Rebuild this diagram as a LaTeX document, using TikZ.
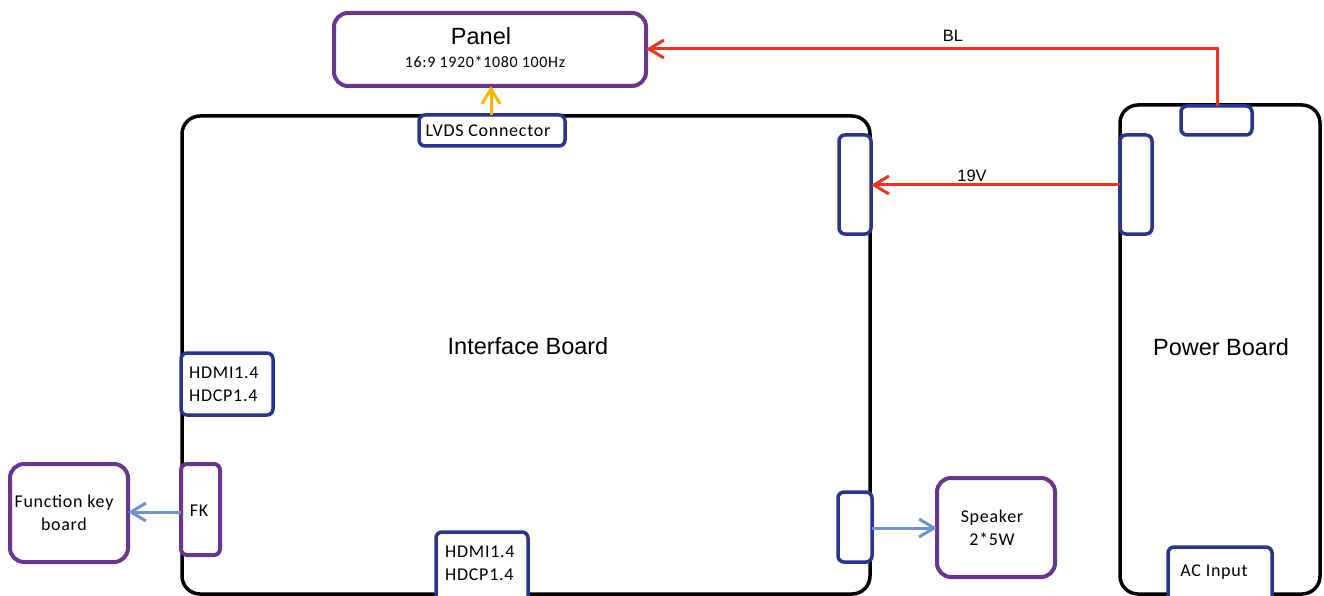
\documentclass[tikz,border=0pt]{standalone}
\usepackage{fontspec}
\setmainfont{Carlito}[LetterSpace=4]
\newfontfamily\arialf{Liberation Sans}
\usetikzlibrary{arrows.meta}
\definecolor{pur}{RGB}{106,52,147}
\definecolor{dblue}{RGB}{40,52,145}
\definecolor{pred}{RGB}{238,51,36}
\definecolor{pyel}{RGB}{249,184,0}
\definecolor{lblue}{RGB}{107,147,208}
\begin{document}
\begin{tikzpicture}[x=1pt,y=-1pt,
  board/.style={draw=black, line width=3.5pt, rounded corners=18pt, inner sep=0pt, outer sep=0pt, anchor=north west},
  conn/.style={draw=dblue, line width=3.5pt, rounded corners=6pt, inner sep=0pt, outer sep=0pt, fill=white, anchor=north west},
  ext/.style={draw=pur, line width=4pt, rounded corners=14pt, inner sep=0pt, outer sep=0pt, fill=white, anchor=north west},
  fkbox/.style={draw=pur, line width=4pt, rounded corners=6pt, inner sep=0pt, outer sep=0pt, fill=white, anchor=north west},
  tip/.style={-{Straight Barb[length=15pt,width=18pt]}},
  redarr/.style={draw=pred, line width=3pt, tip},
  bluearr/.style={draw=lblue, line width=3pt, tip},
  yelarr/.style={draw=pyel, line width=3pt, tip},
  txt/.style={font=\fontsize{18}{23}\selectfont, inner sep=0pt, align=center},
  big/.style={font=\arialf\fontsize{23.5}{28}\selectfont, inner sep=0pt},
  lab/.style={font=\arialf\fontsize{16.5}{20}\selectfont, inner sep=0pt}
]
\useasboundingbox (0,0) rectangle (1324,596);

% boards
\node[board, minimum width=688pt, minimum height=478pt] (ib) at (182,116) {};
\node[board, minimum width=200pt, minimum height=489pt] (pb) at (1120,105) {};
\node[big] (ibl) at (528,346) {Interface Board};
\node[big] (pbl) at (1221,347) {Power Board};

% panel
\node[ext, minimum width=312pt, minimum height=73pt] (panel) at (334,13) {};
\node[big] (panelt) at (481,36) {Panel};
\node[font=\fontsize{16}{19}\selectfont, inner sep=0pt] (panels) at (485,62) {16:9 1920*1080 100Hz};

% connectors on interface board
\node[conn, minimum width=146pt, minimum height=31pt] (lvds) at (419,115) {};
\node[txt] (lvdst) at (488,131) {LVDS Connector};
\node[conn, minimum width=32pt, minimum height=99pt] (ipw) at (839,135) {};
\node[conn, minimum width=92pt, minimum height=62pt] (hdmi1) at (181,353) {};
\node[txt, align=left, anchor=west] (hdmi1t) at (189,384) {HDMI1.4\\HDCP1.4};
\node[conn, minimum width=92pt, minimum height=70pt] (hdmi2) at (436,532) {};
\node[txt, align=left, anchor=west] (hdmi2t) at (445,563) {HDMI1.4\\HDCP1.4};
\node[conn, minimum width=34pt, minimum height=70pt] (spc) at (838,492) {};
\node[fkbox, minimum width=39pt, minimum height=91pt] (fk) at (181,464) {};
\node[txt] (fkt) at (199,511) {FK};

% connectors on power board
\node[conn, minimum width=71pt, minimum height=29pt] (bl) at (1181,106) {};
\node[conn, minimum width=32pt, minimum height=99pt] (ppw) at (1120,135) {};
\node[conn, minimum width=104pt, minimum height=60pt] (ac) at (1168,547) {};
\node[txt] (act) at (1214,572) {AC Input};

% external boxes
\node[ext, minimum width=118pt, minimum height=98pt] (fkb) at (10,464) {};
\node[txt] (fkbt) at (64,513) {Function key\\board};
\node[ext, minimum width=118pt, minimum height=99pt] (spk) at (937,478) {};
\node[txt] (spkt) at (992,528) {Speaker\\2*5W};

% connections
\coordinate (blturn) at (1217,49);
\draw[redarr] (bl.north -| blturn) -- (blturn) -- (panel.east |- blturn);
\node[lab] (blt) at (953,36) {BL};
\draw[redarr] (ppw.west |- 0,185) -- (ipw.east |- 0,185);
\node[lab] (v19) at (972,176) {19V};
\draw[yelarr] (lvds.north -| 491,0) -- (panel.south -| 491,0);
\draw[bluearr] (fk.west |- 0,512) -- (fkb.east |- 0,512);
\draw[bluearr] (spc.east |- 0,528) -- (spk.west |- 0,528);
\end{tikzpicture}
\end{document}
